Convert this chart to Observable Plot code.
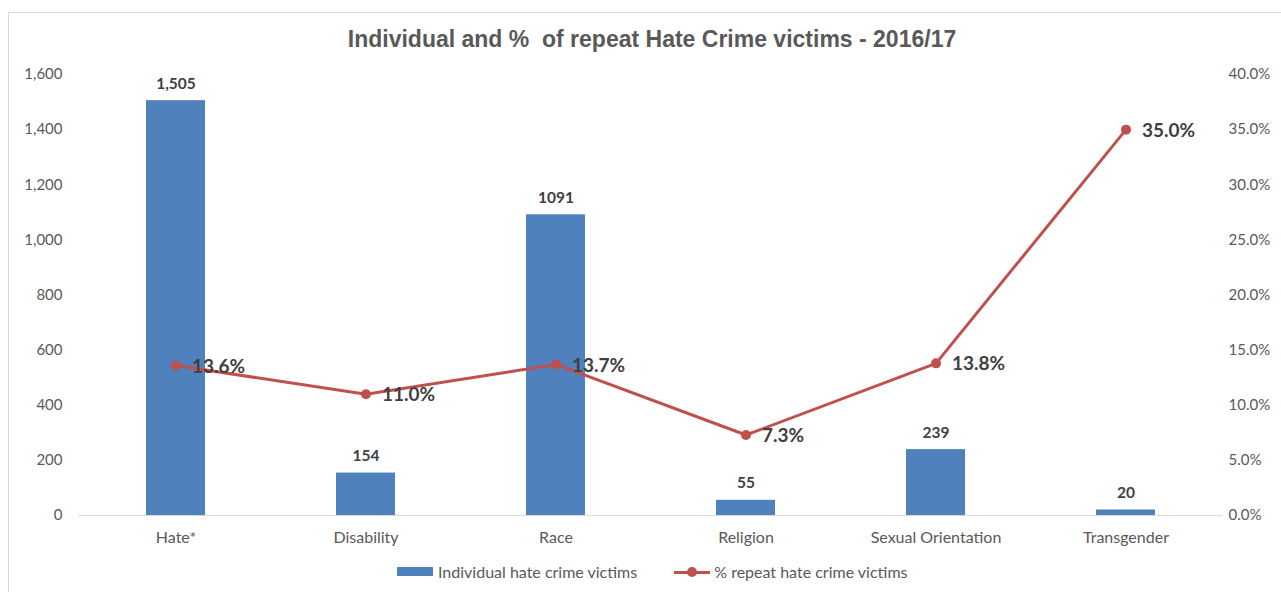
<!DOCTYPE html>
<html>
<head>
<meta charset="utf-8">
<script src="https://cdn.jsdelivr.net/npm/d3@7"></script>
<script src="https://cdn.jsdelivr.net/npm/@observablehq/plot@0.6"></script>
<style>
  html, body { margin: 0; padding: 0; background: #fff; }
  #wrap { position: relative; width: 1281px; height: 592px; overflow: hidden; }
  #frame { position: absolute; left: 8px; top: 12px; width: 1290px; height: 600px; border: 1px solid #d9d9d9; box-sizing: border-box; }
  #title { position: absolute; left: 0; width: 1304px; top: 26px; text-align: center; font-family: "Liberation Sans", Arial, sans-serif; font-weight: bold; font-size: 23px; color: #595959; }
  #chart { position: absolute; left: 0; top: 0; }
  #legend { position: absolute; top: 562px; left: 397px; font-family: Lato, "Open Sans", sans-serif; font-size: 16px; color: #595959; display: flex; align-items: center; white-space: nowrap; }
  .sw-bar { display: inline-block; width: 36px; height: 9px; background: #4F81BD; margin-right: 5px; }
  .sw-line { display: inline-block; position: relative; width: 36px; height: 10px; margin-right: 4px; margin-left: 37px; }
  .sw-line::before { content: ""; position: absolute; left: 0; right: 0; top: 4px; height: 3px; background: #C0504D; }
  .sw-line::after { content: ""; position: absolute; left: 13px; top: 0px; width: 10px; height: 10px; border-radius: 50%; background: #C0504D; }
</style>
</head>
<body>
<div id="wrap">
  <div id="frame"></div>
  <div id="title">Individual and %&nbsp; of repeat Hate Crime victims - 2016/17</div>
  <div id="chart"></div>
  <div id="legend"><span class="sw-bar"></span><span>Individual hate crime victims</span><span class="sw-line"></span><span>% repeat hate crime victims</span></div>
</div>
<script>
const categories = ["Hate*", "Disability", "Race", "Religion", "Sexual Orientation", "Transgender"];
const victims = [1505, 154, 1091, 55, 239, 20];
const victimLabels = ["1,505", "154", "1091", "55", "239", "20"];
const repeatPct = [13.6, 11.0, 13.7, 7.3, 13.8, 35.0];
const leftTicks = [0, 200, 400, 600, 800, 1000, 1200, 1400, 1600];
const rightTicks = [0, 5, 10, 15, 20, 25, 30, 35, 40];

const leftMax = 1600, rightMax = 40;
const k = leftMax / rightMax;

const data = categories.map((c, i) => ({
  cat: c, v: victims[i], vl: victimLabels[i], p: repeatPct[i], pScaled: repeatPct[i] * k
}));

const tickFont = "Lato, 'Open Sans', sans-serif";

const plot = Plot.plot({
  width: 1281,
  height: 592,
  marginLeft: 78,
  marginRight: 59,
  marginTop: 74,
  marginBottom: 77,
  style: { fontFamily: tickFont, fontSize: "15px", color: "#595959", background: "transparent", overflow: "visible" },
  x: { domain: categories, paddingInner: 0.69, paddingOuter: 0.345, label: null },
  y: { domain: [0, leftMax], label: null },
  marks: [
    Plot.axisY({ ticks: leftTicks, tickFormat: d3.format(","), tickSize: 0, tickPadding: 16, anchor: "left", fontSize: 15, fill: "#595959" }),
    Plot.axisY({ ticks: rightTicks.map(t => t * k), tickFormat: d => (d / k).toFixed(1) + "%", tickSize: 0, tickPadding: 6, anchor: "right", fontSize: 15, fill: "#595959", textAnchor: "start" }),
    Plot.axisX({ tickSize: 0, tickPadding: 16, fontSize: 16, fill: "#595959" }),
    Plot.barY(data, { x: "cat", y: "v", fill: "#4F81BD" }),
    Plot.ruleY([0], { stroke: "#d9d9d9", strokeWidth: 1 }),
    Plot.text(data, { x: "cat", y: "v", text: "vl", dy: -17, fontWeight: "bold", fontSize: 15.5, fill: "#404040" }),
    Plot.line(data, { x: "cat", y: "pScaled", stroke: "#C0504D", strokeWidth: 3 }),
    Plot.dot(data, { x: "cat", y: "pScaled", r: 5, fill: "#C0504D" }),
    Plot.text(data, { x: "cat", y: "pScaled", text: d => d.p.toFixed(1) + "%", textAnchor: "start", dx: 16, dy: 1, fontWeight: "bold", fontSize: 19, fill: "#404040" })
  ]
});
document.getElementById("chart").appendChild(plot);
</script>
</body>
</html>
